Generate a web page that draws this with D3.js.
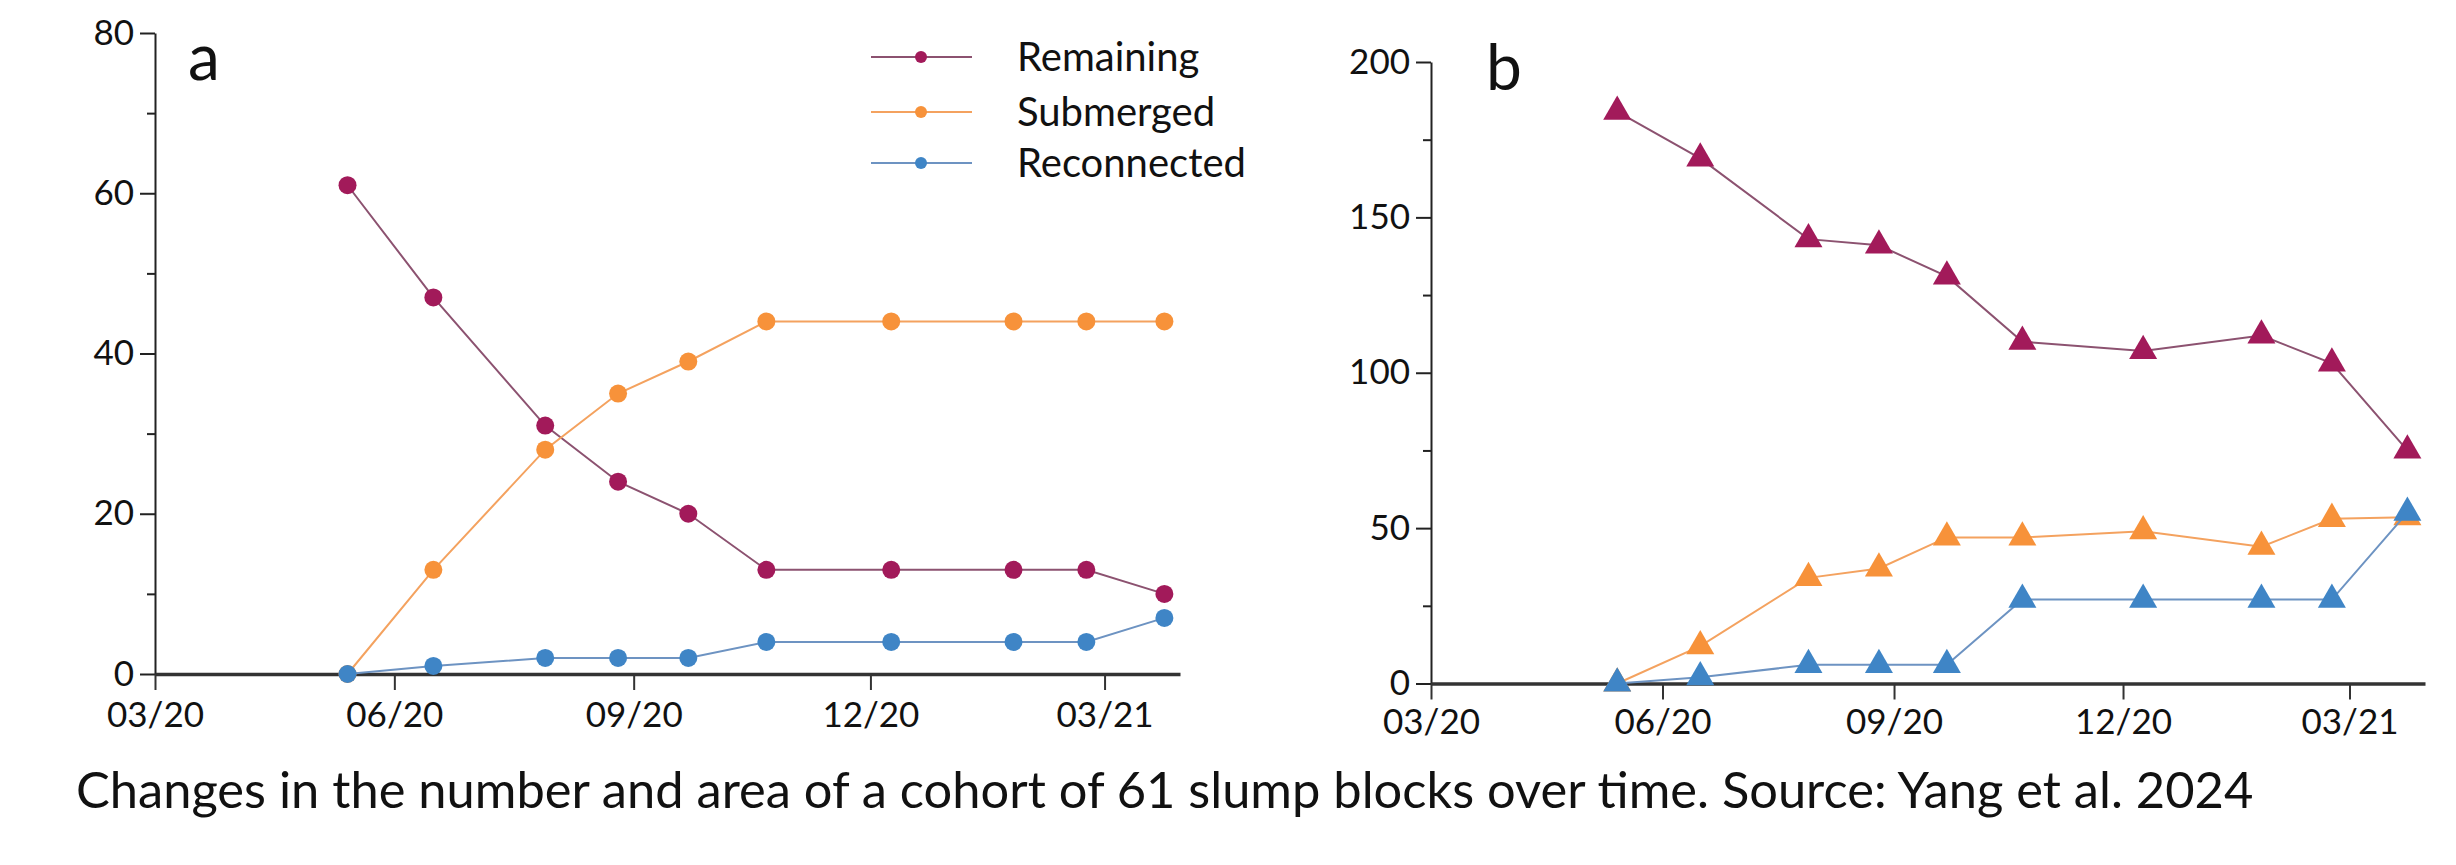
<!DOCTYPE html>
<html>
<head>
<meta charset="utf-8">
<script src="https://cdn.jsdelivr.net/npm/d3@7"></script>
<style>
    html, body { margin: 0; padding: 0; background: #fff; }
    svg { display: block; }
    text { font-family: Lato, "Open Sans", sans-serif; fill: #111; }
</style>
</head>
<body>
<svg id="chart" width="2456" height="865"></svg>
<script>
/***************************************************************
    Data
****************************************************************/
const surveyDates = ["2020-05-14", "2020-06-16", "2020-07-29", "2020-08-26", "2020-09-22",
                     "2020-10-22", "2020-12-09", "2021-01-25", "2021-02-22", "2021-03-24"];
const tickDates = ["2020-03-01", "2020-06-01", "2020-09-01", "2020-12-01", "2021-03-01"];

const seriesNames = ["Remaining", "Submerged", "Reconnected"];

// panel a: number of slump blocks
const countRemaining   = [61, 47, 31, 24, 20, 13, 13, 13, 13, 10];
const countSubmerged   = [0, 13, 28, 35, 39, 44, 44, 44, 44, 44];
const countReconnected = [0, 1, 2, 2, 2, 4, 4, 4, 4, 7];

// panel b: area
const areaRemaining   = [184, 169, 143, 141, 131, 110, 107, 112, 103, 75];
const areaSubmerged   = [0, 12, 34, 37, 47, 47, 49, 44, 53, 53.5];
const areaReconnected = [0, 2, 6, 6, 6, 27, 27, 27, 27, 55];

const countTicks = [0, 20, 40, 60, 80];
const countMinor = [10, 30, 50, 70];
const areaTicks = [0, 50, 100, 150, 200];
const areaMinor = [25, 75, 125, 175];

const captionText = "Changes in the number and area of a cohort of 61 slump blocks over time. Source: Yang et al. 2024";

/***************************************************************
    Styles
****************************************************************/
const markColors = { Remaining: "#a21a5a", Submerged: "#f7923a", Reconnected: "#3f85c6" };
const lineColors = { Remaining: "#8c5270", Submerged: "#f4a25f", Reconnected: "#6d93c2" };
const tickFont = 35;
const parseDate = d3.timeParse("%Y-%m-%d");

const svg = d3.select("#chart");
svg.append("rect").attr("width", 2456).attr("height", 865).attr("fill", "#fff");

/***************************************************************
    Panels
****************************************************************/
drawPanel({
    label: "a", labelX: 188, labelY: 80,
    xRange: [155, 1180], xEnd: "2021-03-30",
    yDomain: [0, 80], yRange: [674, 33],
    ticks: countTicks, minor: countMinor, xLabelPad: 12,
    series: [countRemaining, countSubmerged, countReconnected],
    marker: "circle"
});

drawPanel({
    label: "b", labelX: 1486, labelY: 90,
    xRange: [1431, 2425], xEnd: "2021-03-31",
    yDomain: [0, 200], yRange: [683.5, 62],
    ticks: areaTicks, minor: areaMinor, xLabelPad: 10,
    series: [areaRemaining, areaSubmerged, areaReconnected],
    marker: "triangle"
});

drawLegend();
drawCaption();

function drawPanel(p) {
    let x = d3.scaleTime()
        .domain([parseDate(tickDates[0]), parseDate(p.xEnd)])
        .range(p.xRange);
    let y = d3.scaleLinear().domain(p.yDomain).range(p.yRange);
    let g = svg.append("g");

    // y axis: major + minor ticks
    g.append("g").attr("transform", `translate(${p.xRange[0]},0)`)
        .call(d3.axisLeft(y).tickValues(p.minor).tickSize(8).tickFormat("").tickSizeOuter(0))
        .call(a => a.select(".domain").remove())
        .call(a => a.selectAll("line").attr("stroke", "#222").attr("stroke-width", 2));
    g.append("g").attr("transform", `translate(${p.xRange[0]},0)`)
        .call(d3.axisLeft(y).tickValues(p.ticks).tickSize(15).tickPadding(6).tickSizeOuter(0))
        .call(a => a.select(".domain").attr("stroke", "#222").attr("stroke-width", 2))
        .call(a => a.selectAll("line").attr("stroke", "#222").attr("stroke-width", 2))
        .call(a => a.selectAll("text").attr("font-size", tickFont).attr("font-family", "Lato, sans-serif").attr("fill", "#111"));

    // x axis at zero
    g.append("g").attr("transform", `translate(0,${y(0)})`)
        .call(d3.axisBottom(x).tickValues(tickDates.map(parseDate))
            .tickFormat(d3.timeFormat("%m/%y")).tickSize(16).tickPadding(p.xLabelPad).tickSizeOuter(0))
        .call(a => a.select(".domain").attr("stroke", "#333").attr("stroke-width", 3.5))
        .call(a => a.selectAll("line").attr("stroke", "#333").attr("stroke-width", 2))
        .call(a => a.selectAll("text").attr("font-size", tickFont).attr("font-family", "Lato, sans-serif").attr("fill", "#111"));

    // panel letter
    g.append("text").attr("x", p.labelX).attr("y", p.labelY)
        .attr("font-size", 64).text(p.label);

    let line = d3.line().x(d => x(d.date)).y(d => y(d.value));

    p.series.forEach((values, i) => {
        let name = seriesNames[i];
        let pts = values.map((v, j) => ({ date: parseDate(surveyDates[j]), value: v }));
        g.append("path").datum(pts)
            .attr("fill", "none").attr("stroke", lineColors[name]).attr("stroke-width", 2)
            .attr("d", line);
        if (p.marker === "circle") {
            g.selectAll(null).data(pts).enter().append("circle")
                .attr("cx", d => x(d.date)).attr("cy", d => y(d.value))
                .attr("r", 9).attr("fill", markColors[name]);
        } else {
            g.selectAll(null).data(pts).enter().append("path")
                .attr("d", d3.symbol(d3.symbolTriangle, 340))
                .attr("transform", d => `translate(${x(d.date)},${y(d.value)})`)
                .attr("fill", markColors[name]);
        }
    });
}

function drawLegend() {
    let rows = [57, 112, 163];
    let lg = svg.append("g");
    seriesNames.forEach((name, i) => {
        lg.append("line").attr("x1", 871).attr("x2", 972).attr("y1", rows[i]).attr("y2", rows[i])
            .attr("stroke", lineColors[name]).attr("stroke-width", 2);
        lg.append("circle").attr("cx", 921).attr("cy", rows[i]).attr("r", 6).attr("fill", markColors[name]);
        lg.append("text").attr("x", 1017).attr("y", rows[i]).attr("dy", "0.35em")
            .attr("font-size", 40).text(name);
    });
}

function drawCaption() {
    let t = svg.append("text").attr("x", 76).attr("y", 808).attr("font-size", 42).text(captionText);
    // fit to the width seen in the figure
    let w = t.node().getComputedTextLength();
    t.attr("font-size", 42 * 2178 / w);
}
</script>
</body>
</html>
